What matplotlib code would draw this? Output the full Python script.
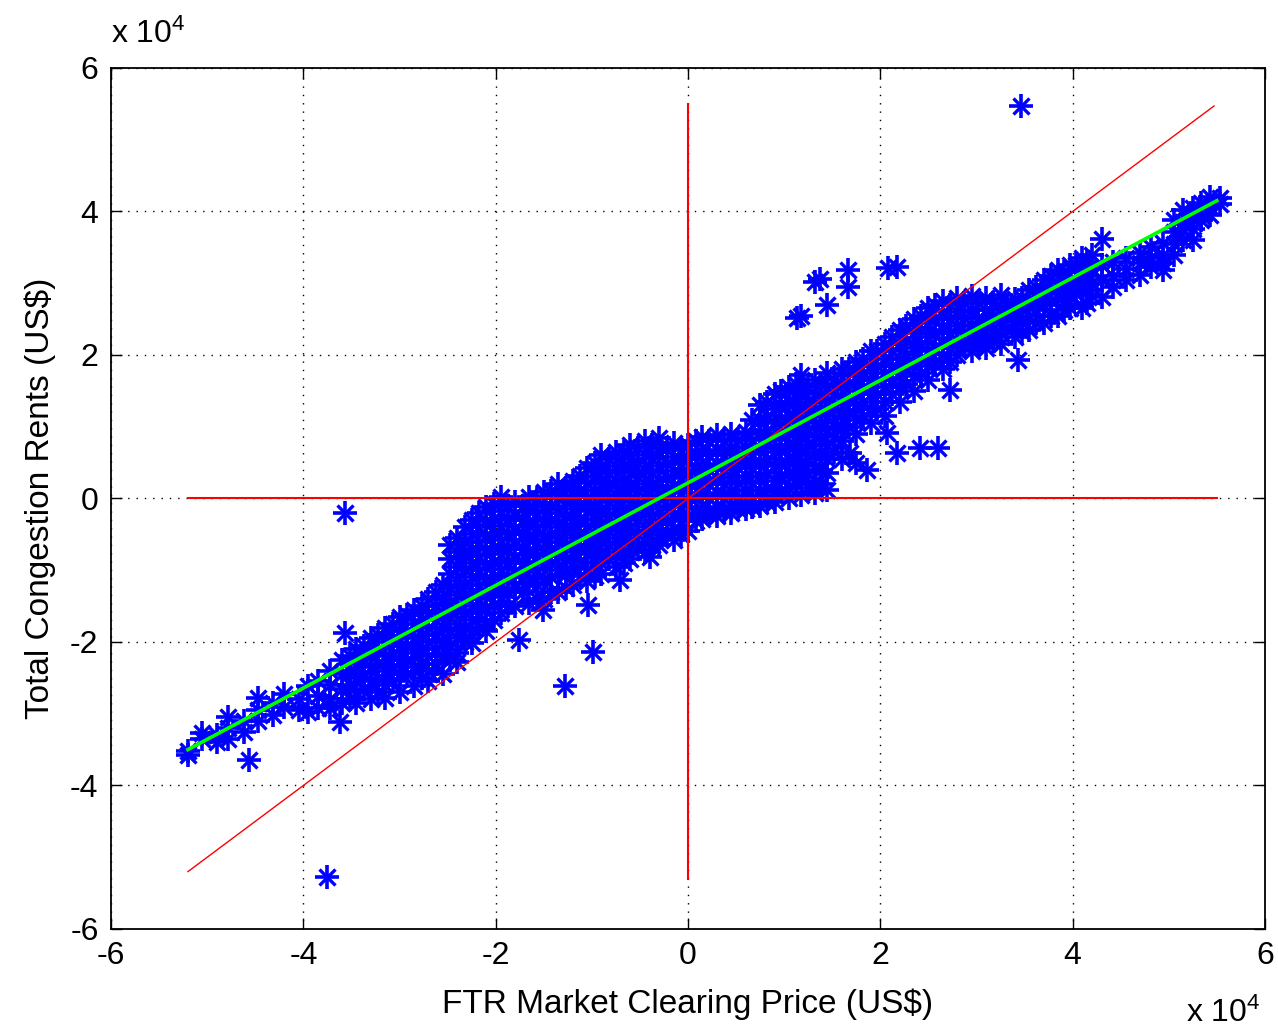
import numpy as np
import matplotlib
matplotlib.use("Agg")
import matplotlib.pyplot as plt

plt.rcParams['font.family'] = ['Liberation Sans', 'DejaVu Sans']
plt.rcParams['mathtext.default'] = 'regular'

# values in units of 1e4 US$
# dense band: (x, [y values])
band_cols = [
    (-5.20, [-3.52, -3.58]),
    (-5.05, [-3.27, -3.35]),
    (-4.90, [-3.40, -3.30]),
    (-4.78, [-3.05, -3.35, -3.20]),
    (-4.62, [-3.10, -3.25]),
    (-4.47, [-2.78, -2.95, -3.10]),
    (-4.32, [-2.85, -3.02]),
    (-4.20, [-2.72, -2.90]),
    (-4.05, [-2.80, -2.95]),
    (-3.95, [-2.62, -2.98]),
    (-3.85, [-2.55, -2.75, -2.92]),
    (-3.72, [-2.40, -2.60, -2.80, -2.92]),
    (-3.60, [-2.25, -2.45, -2.65, -2.85]),
    (-3.45, [-2.10, -2.30, -2.50, -2.70, -2.85]),
    (-3.30, [-1.95, -2.15, -2.35, -2.55, -2.80]),
    (-3.15, [-1.80, -2.00, -2.20, -2.40, -2.60, -2.78]),
    (-3.00, [-1.65, -1.85, -2.05, -2.25, -2.45, -2.70]),
    (-2.85, [-1.55, -1.75, -1.95, -2.15, -2.35, -2.62]),
    (-2.70, [-1.40, -1.60, -1.80, -2.00, -2.20, -2.40, -2.55]),
    (-2.55, [-1.20, -1.40, -1.60, -1.80, -2.00, -2.20, -2.45]),
    (-2.40, [-0.55, -0.75, -0.95, -1.15, -1.35, -1.55, -1.75, -1.95, -2.15, -2.28]),
    (-2.25, [-0.30, -0.50, -0.70, -0.90, -1.10, -1.30, -1.50, -1.70, -1.90, -2.02]),
    (-2.10, [-0.12, -0.32, -0.52, -0.72, -0.92, -1.12, -1.32, -1.52, -1.72, -1.85]),
    (-1.95, [0.02, -0.18, -0.38, -0.58, -0.78, -0.98, -1.18, -1.38, -1.60]),
    (-1.80, [-0.05, -0.25, -0.45, -0.65, -0.85, -1.05, -1.25, -1.50]),
    (-1.65, [0.02, -0.18, -0.38, -0.58, -0.78, -0.98, -1.18, -1.45]),
    (-1.50, [0.09, -0.12, -0.32, -0.52, -0.72, -0.92, -1.12, -1.40]),
    (-1.35, [0.20, 0.00, -0.20, -0.40, -0.60, -0.80, -1.00, -1.30]),
    (-1.20, [0.25, 0.05, -0.15, -0.35, -0.55, -0.75, -0.95, -1.20]),
    (-1.05, [0.42, 0.22, 0.02, -0.18, -0.38, -0.58, -0.78, -0.98, -1.15]),
    (-0.90, [0.60, 0.40, 0.20, 0.00, -0.20, -0.40, -0.60, -0.80, -1.05]),
    (-0.75, [0.65, 0.45, 0.25, 0.05, -0.15, -0.35, -0.55, -0.75, -0.95]),
    (-0.60, [0.75, 0.55, 0.35, 0.15, -0.05, -0.25, -0.45, -0.65, -0.85]),
    (-0.45, [0.80, 0.60, 0.40, 0.20, 0.00, -0.20, -0.40, -0.60, -0.75]),
    (-0.30, [0.84, 0.65, 0.45, 0.25, 0.05, -0.15, -0.35, -0.55, -0.65]),
    (-0.15, [0.78, 0.58, 0.38, 0.18, -0.02, -0.22, -0.42, -0.58]),
    (0.00, [0.75, 0.55, 0.35, 0.15, -0.05, -0.25, -0.45]),
    (0.15, [0.85, 0.65, 0.45, 0.25, 0.05, -0.15, -0.28]),
    (0.30, [0.88, 0.68, 0.48, 0.28, 0.08, -0.12, -0.25]),
    (0.45, [0.90, 0.70, 0.50, 0.30, 0.10, -0.10, -0.20]),
    (0.60, [0.92, 0.72, 0.52, 0.32, 0.12, -0.08, -0.15]),
    (0.75, [1.30, 1.10, 0.90, 0.70, 0.50, 0.30, 0.10, -0.10]),
    (0.90, [1.45, 1.25, 1.05, 0.85, 0.65, 0.45, 0.25, 0.05, -0.05]),
    (1.05, [1.55, 1.35, 1.15, 0.95, 0.75, 0.55, 0.35, 0.15, 0.00]),
    (1.18, [1.72, 1.50, 1.30, 1.10, 0.90, 0.70, 0.50, 0.30, 0.05]),
    (1.32, [1.65, 1.45, 1.25, 1.05, 0.85, 0.65, 0.45, 0.25, 0.08]),
    (1.45, [1.75, 1.55, 1.35, 1.15, 0.95, 0.75, 0.55, 0.35, 0.12]),
    (1.60, [1.80, 1.60, 1.40, 1.20, 1.00, 0.80, 0.55]),
    (1.75, [1.90, 1.70, 1.50, 1.30, 1.10, 0.90, 0.49]),
    (1.90, [2.05, 1.85, 1.65, 1.45, 1.25, 1.05]),
    (2.05, [2.15, 1.95, 1.75, 1.55, 1.35, 1.15]),
    (2.20, [2.35, 2.15, 1.95, 1.75, 1.55, 1.35]),
    (2.35, [2.50, 2.30, 2.10, 1.90, 1.70, 1.50]),
    (2.50, [2.65, 2.45, 2.25, 2.05, 1.85, 1.65]),
    (2.65, [2.75, 2.55, 2.35, 2.15, 1.95, 1.80]),
    (2.80, [2.80, 2.60, 2.40, 2.20, 2.00]),
    (2.95, [2.82, 2.62, 2.42, 2.22, 2.05]),
    (3.10, [2.80, 2.62, 2.44, 2.26, 2.10]),
    (3.25, [2.84, 2.66, 2.48, 2.30, 2.15]),
    (3.40, [2.78, 2.60, 2.42, 2.25]),
    (3.55, [2.90, 2.72, 2.55, 2.35]),
    (3.70, [3.05, 2.88, 2.70, 2.45]),
    (3.85, [3.18, 3.00, 2.80, 2.55]),
    (3.97, [3.25, 3.05, 2.85, 2.65]),
    (4.10, [3.35, 3.15, 2.95, 2.65]),
    (4.20, [3.40, 3.20, 3.00, 2.82]),
    (4.31, [3.61, 3.25, 3.05, 2.81]),
    (4.42, [3.30, 3.10, 2.95]),
    (4.56, [3.35, 3.20, 3.04]),
    (4.70, [3.42, 3.28, 3.12]),
    (4.82, [3.50, 3.35, 3.22]),
    (4.94, [3.56, 3.40, 3.28, 3.18]),
    (5.05, [3.88, 3.72, 3.55, 3.40]),
    (5.15, [4.02, 3.85, 3.74, 3.60]),
    (5.25, [4.05, 3.90, 3.75, 3.60]),
    (5.33, [4.12, 3.95, 3.88]),
    (5.43, [4.20, 4.06, 3.95]),
    (5.53, [4.19, 4.10]),
]

# points lying between the columns above, where the cloud is solid
band_mid = [
    (-3.52, [-2.20, -2.40, -2.60, -2.80]),
    (-3.37, [-2.05, -2.25, -2.45, -2.65]),
    (-3.22, [-1.90, -2.10, -2.30, -2.50, -2.70]),
    (-3.07, [-1.75, -1.95, -2.15, -2.35, -2.55]),
    (-2.92, [-1.62, -1.85, -2.05, -2.25, -2.45]),
    (-2.77, [-1.50, -1.70, -1.90, -2.10, -2.30, -2.50]),
    (-2.62, [-1.30, -1.50, -1.70, -1.90, -2.10, -2.30]),
    (-2.47, [-0.65, -0.85, -1.05, -1.25, -1.45, -1.65, -1.85, -2.05, -2.25]),
    (-2.32, [-0.40, -0.60, -0.80, -1.00, -1.20, -1.40, -1.60, -1.80, -2.00]),
    (-2.17, [-0.20, -0.40, -0.60, -0.80, -1.00, -1.20, -1.40, -1.60, -1.80]),
    (-2.02, [-0.08, -0.28, -0.48, -0.68, -0.88, -1.08, -1.28, -1.48, -1.70]),
    (-1.87, [-0.10, -0.30, -0.50, -0.70, -0.90, -1.10, -1.30, -1.50]),
    (-1.72, [-0.10, -0.30, -0.50, -0.70, -0.90, -1.10, -1.30]),
    (-1.57, [0.00, -0.20, -0.40, -0.60, -0.80, -1.00, -1.20, -1.40]),
    (-1.42, [0.10, -0.10, -0.30, -0.50, -0.70, -0.90, -1.10, -1.30]),
    (-1.27, [0.15, -0.05, -0.25, -0.45, -0.65, -0.85, -1.05, -1.25]),
    (-1.12, [0.32, 0.12, -0.08, -0.28, -0.48, -0.68, -0.88, -1.08]),
    (-0.97, [0.50, 0.30, 0.10, -0.10, -0.30, -0.50, -0.70, -0.90, -1.08]),
    (-0.82, [0.55, 0.35, 0.15, -0.05, -0.25, -0.45, -0.65, -0.85]),
    (-0.67, [0.65, 0.45, 0.25, 0.05, -0.15, -0.35, -0.55, -0.75, -0.90]),
    (-0.52, [0.70, 0.50, 0.30, 0.10, -0.10, -0.30, -0.50, -0.70]),
    (-0.37, [0.75, 0.55, 0.35, 0.15, -0.05, -0.25, -0.45, -0.65]),
    (-0.22, [0.70, 0.50, 0.30, 0.10, -0.10, -0.30, -0.50]),
    (-0.07, [0.68, 0.48, 0.28, 0.08, -0.12, -0.32, -0.50]),
    (0.08, [0.80, 0.60, 0.40, 0.20, 0.00, -0.20, -0.32]),
    (0.22, [0.80, 0.60, 0.40, 0.20, 0.00, -0.20]),
    (0.37, [0.80, 0.60, 0.40, 0.20, 0.00, -0.18]),
    (0.52, [0.82, 0.62, 0.42, 0.22, 0.02, -0.15]),
    (0.67, [1.10, 0.82, 0.62, 0.42, 0.22, 0.02, -0.12]),
    (0.82, [1.35, 1.15, 0.95, 0.75, 0.55, 0.35, 0.15, -0.05]),
    (0.97, [1.50, 1.30, 1.10, 0.90, 0.70, 0.50, 0.30, 0.10]),
    (1.12, [1.60, 1.40, 1.20, 1.00, 0.80, 0.60, 0.40, 0.20]),
    (1.25, [1.55, 1.35, 1.15, 0.95, 0.75, 0.55, 0.35, 0.15]),
    (1.38, [1.60, 1.40, 1.20, 1.00, 0.80, 0.60, 0.40, 0.20]),
    (1.52, [1.65, 1.45, 1.25, 1.05, 0.85, 0.65]),
    (1.67, [1.80, 1.60, 1.40, 1.20, 1.00]),
    (1.82, [1.95, 1.75, 1.55, 1.35, 1.15]),
    (1.97, [2.05, 1.85, 1.65, 1.45, 1.25]),
    (2.12, [2.25, 2.05, 1.85, 1.65, 1.45]),
    (2.27, [2.40, 2.20, 2.00, 1.80, 1.60]),
    (2.42, [2.55, 2.35, 2.15, 1.95, 1.75]),
    (2.57, [2.70, 2.50, 2.30, 2.10, 1.90]),
    (2.72, [2.70, 2.50, 2.30, 2.10, 1.90]),
    (2.87, [2.72, 2.52, 2.32, 2.12]),
    (3.02, [2.72, 2.52, 2.34, 2.16]),
    (3.17, [2.72, 2.54, 2.36, 2.20]),
    (3.32, [2.70, 2.52, 2.35]),
    (3.47, [2.80, 2.64, 2.48, 2.32]),
    (3.62, [2.95, 2.80, 2.62, 2.45]),
    (3.77, [3.10, 2.92, 2.75, 2.55]),
    (3.91, [3.15, 2.95, 2.75, 2.62]),
    (4.04, [3.25, 3.05, 2.85]),
    (4.15, [3.30, 3.10, 2.90, 2.72]),
]

# isolated points
out_x = [-3.75, -3.57, -3.57, -3.62, -4.57, -1.76, -1.51, -1.04, -0.99, -1.28,
         -0.71, -0.40, 1.13, 1.18, 1.32, 1.37, 1.45, 1.66, 1.66, 2.08,
         2.17, 3.46, 1.68, 1.86, 2.07, 2.17, 2.41, 2.60, 2.72, 3.43]
out_y = [-5.27, -0.20, -1.88, -3.12, -3.64, -1.97, -1.55, -1.48, -2.14, -2.61,
         -1.14, -0.81, 2.52, 2.55, 3.02, 3.06, 2.70, 3.18, 2.95, 3.21,
         3.22, 5.47, 0.63, 0.40, 0.91, 0.63, 0.70, 0.70, 1.51, 1.93]

# reference lines and least-squares fit (1e4 US$)
hline_x = [-5.20, 5.50]
hline_y = [0.0, 0.0]
vline_x = [0.0, 0.0]
vline_y = [-5.30, 5.50]
diag_x = [-5.20, 5.47]
diag_y = [-5.20, 5.47]
fit_x = [-5.20, 5.50]
fit_y = [-3.50, 4.15]

xs, ys = [], []
for cx, cys in band_cols + band_mid:
    for cy in cys:
        xs.append(cx)
        ys.append(cy)
xs += out_x
ys += out_y

fig = plt.figure(figsize=(12.78, 10.33), dpi=100)
ax = fig.add_axes([0.0869, 0.1007, 0.9029, 0.8335])

ax.plot(xs, ys, linestyle='none', marker='+', ms=17, mew=2.6, color='#0000ff')
ax.plot(xs, ys, linestyle='none', marker='x', ms=12, mew=2.4, color='#0000ff')

ax.plot(hline_x, hline_y, color='#ff0000', lw=1.5)
ax.plot(vline_x, vline_y, color='#ff0000', lw=1.5)
ax.plot(diag_x, diag_y, color='#ff0000', lw=1.0)
ax.plot(fit_x, fit_y, color='#00ff00', lw=2.6)

ax.set_xlim(-6, 6)
ax.set_ylim(-6, 6)
ticks = [-6, -4, -2, 0, 2, 4, 6]
ax.set_xticks(ticks)
ax.set_yticks(ticks)
ax.set_xticklabels([str(t) for t in ticks])
ax.set_yticklabels([str(t) for t in ticks])
ax.grid(True, color='black', linestyle=(0, (1, 5)), linewidth=1.0)
ax.tick_params(direction='in', length=8, width=1, top=True, right=True,
               labelsize=23, pad=9)
for s in ax.spines.values():
    s.set_linewidth(1.3)

ax.set_xlabel('FTR Market Clearing Price (US\\$)', fontsize=24, labelpad=12)
ax.set_ylabel('Total Congestion Rents (US\\$)', fontsize=24, labelpad=10)

fig.text(0.087, 0.952, r'x 10$^{4}$', fontsize=23, ha='left', va='bottom')
fig.text(0.928, 0.004, r'x 10$^{4}$', fontsize=23, ha='left', va='bottom')

fig.savefig('out.png', dpi=100, facecolor='white')
